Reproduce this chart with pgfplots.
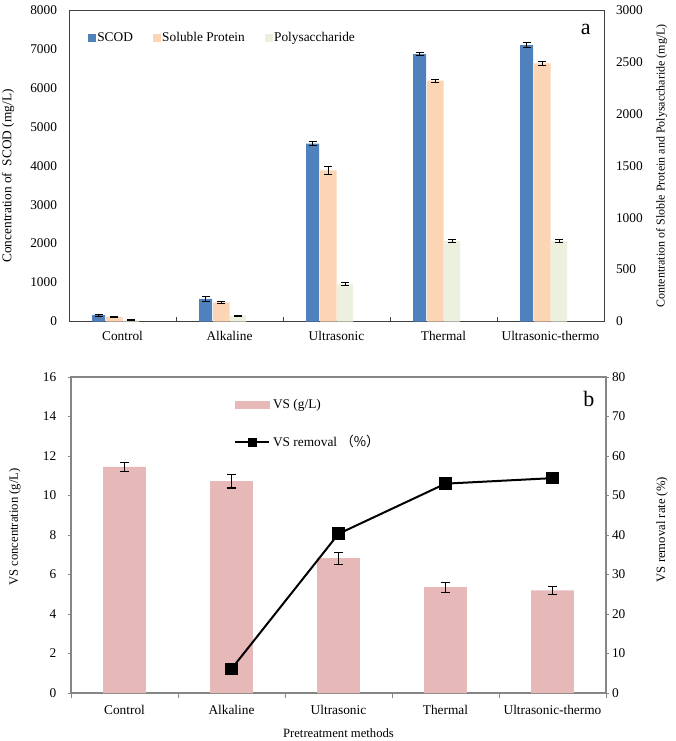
\documentclass[border=0pt]{standalone}
\usepackage{fontspec}
\setmainfont{Liberation Serif}
\newfontfamily\cjk{Noto Sans CJK SC}
\usepackage{pgfplots}
\usepackage{pgfplotstable}
\pgfplotsset{compat=1.18}

\definecolor{scod}{HTML}{4F81BD}
\definecolor{prot}{HTML}{FCD5B5}
\definecolor{poly}{HTML}{EBF1DE}
\definecolor{vsbar}{HTML}{E6B9B8}
\definecolor{axisgray}{HTML}{868686}

% top panel: SCOD on left axis, protein + polysaccharide on right axis
\pgfplotstableread{
x scod scoderr prot proterr poly polyerr
0 165  25  44   4  12  3
1 578  60  183  8  57  5
2 4570 60  1455 40 360 12
3 6870 50  2320 15 775 12
4 7100 70  2485 20 775 12
}\toptable

% bottom panel: VS concentration
\pgfplotstableread{
x vs vserr
0 11.45 0.24
1 10.73 0.35
2 6.83  0.30
3 5.36  0.25
4 5.20  0.20
}\vstable

\pgfplotsset{
  panel/.style={
    scale only axis, width=401.25pt,
    xmin=-0.5, xmax=4.5,
    xtick={0,...,4},
    xticklabels={Control,Alkaline,Ultrasonic,Thermal,Ultrasonic-thermo},
    major x tick style={draw=none},
    ticklabel style={font=\fontsize{10}{12}\selectfont},
    xticklabel style={yshift=-3.5pt},
    /pgf/number format/assume math mode=true,
    /pgf/number format/1000 sep={},
    scaled y ticks=false,
    label style={font=\fontsize{10}{12}\selectfont},
  },
  ebar/.style={
    error bars/.cd, y dir=both, y explicit,
    error bar style={draw=black, solid, line width=0.8pt},
    error mark options={draw=black, rotate=90, mark size=#1, line width=0.8pt},
  },
  sqlegend/.style={
    legend image code/.code={\fill[##1] (0pt,-3pt) rectangle (6pt,3pt);}
  },
  linelegend/.style={
    legend image code/.code={\draw[##1, mark size=2.6pt, mark repeat=2, mark phase=2]
      plot coordinates {(0pt,0pt) (12.75pt,0pt) (25.5pt,0pt)};}
  },
  barlegend/.style={
    legend image code/.code={\fill[vsbar] (0pt,-2.5pt) rectangle (25.5pt,2.5pt);}
  },
}

\begin{document}
\begin{tikzpicture}
\useasboundingbox (0pt,0pt) rectangle (506.25pt,-555.75pt);

% ---------------- panel a ----------------
\begin{axis}[panel,
  at={(51.75pt,-241.125pt)}, anchor=south west, height=233.625pt,
  ymin=0, ymax=8000, ytick={0,1000,...,8000},
  ytick style={draw=none}, ytick pos=left, xtick pos=bottom,
  yticklabel style={xshift=-5.5pt},
  minor xtick={0.5,1.5,2.5,3.5}, xtick align=inside, minor tick length=3.5pt,
  minor x tick style={draw=black!75, line width=0.6pt},
  axis line style={draw=black!75, line width=0.7pt},
  ylabel={Concentration of \ SCOD (mg/L)},
  ylabel style={at={(axis description cs:-0.114,0.467)}, anchor=center},
  legend columns=3,
  legend style={draw=none, fill=none, inner sep=0pt,
    at={(axis description cs:0.035,0.91)}, anchor=west,
    font=\fontsize{10}{12}\selectfont,
    nodes={inner xsep=1pt},
    /tikz/every even column/.append style={column sep=14pt}},
]
\addplot[ybar, sqlegend, bar width=9.75pt, bar shift=0pt, fill=scod, draw=none, ebar=3pt]
  table[x expr=\thisrow{x}-0.224, y=scod, y error=scoderr] {\toptable};
\addlegendentry{SCOD}
\addlegendimage{sqlegend, fill=prot, draw=none}
\addlegendentry{Soluble Protein}
\addlegendimage{sqlegend, fill=poly, draw=none}
\addlegendentry{Polysaccharide}
\node[font=\fontsize{16.5}{18}\selectfont] at (axis description cs:0.966,0.936) {a};
\end{axis}

\begin{axis}[panel,
  at={(51.75pt,-241.125pt)}, anchor=south west, height=233.625pt,
  axis y line*=right, axis x line=none,
  ymin=0, ymax=3000, ytick={0,500,...,3000},
  ytick style={draw=none},
  yticklabel style={xshift=5.5pt},
  axis line style={draw=black!75, line width=0.7pt},
  ylabel={Contentration of Sloble Protein and Polysaccharide (mg/L)},
  ylabel style={at={(axis description cs:1.108,0.5)}, anchor=center,
    font=\fontsize{9}{11}\selectfont},
]
\addplot[ybar, bar width=12.4pt, bar shift=0pt, fill=prot, draw=none, ebar=3pt]
  table[x expr=\thisrow{x}-0.075, y=prot, y error=proterr] {\toptable};
\addplot[ybar, bar width=12.2pt, bar shift=0pt, fill=poly, draw=none, ebar=3pt]
  table[x expr=\thisrow{x}+0.080, y=poly, y error=polyerr] {\toptable};
\end{axis}

% ---------------- panel b ----------------
\begin{axis}[panel,
  at={(53.25pt,-519.75pt)}, anchor=south west, height=237pt,
  ymin=0, ymax=16, ytick={0,2,...,16},
  ytick pos=left, xtick pos=bottom, tick align=outside,
  major tick length=2pt,
  yticklabel style={xshift=-5.5pt},
  minor xtick={-0.5,0.5,...,4.5}, minor tick length=3.5pt,
  minor x tick style={draw=axisgray, line width=0.7pt},
  ytick style={draw=axisgray, line width=0.7pt},
  axis line style={draw=axisgray, line width=0.8pt},
  ylabel={VS concentration (g/L)},
  ylabel style={at={(axis description cs:-0.105,0.525)}, anchor=center,
    font=\fontsize{9.5}{11}\selectfont},
  xlabel={Pretreatment methods},
  xlabel style={at={(axis description cs:0.5,-0.127)}, anchor=center,
    font=\fontsize{9.5}{11}\selectfont},
]
\addplot[ybar, bar width=32pt, bar shift=0pt, fill=vsbar, draw=none, ebar=3.3pt]
  table[x=x, y=vs, y error=vserr] {\vstable};
\node[font=\fontsize{16.5}{18}\selectfont] at (axis description cs:0.968,0.93) {b};
\end{axis}

\begin{axis}[panel,
  at={(53.25pt,-519.75pt)}, anchor=south west, height=237pt,
  axis y line*=right, axis x line=none,
  ymin=0, ymax=80, ytick={0,10,...,80},
  tick align=outside, major tick length=2pt,
  ytick style={draw=axisgray, line width=0.7pt},
  yticklabel style={xshift=-1pt},
  axis line style={draw=axisgray, line width=0.8pt},
  ylabel={VS removal rate (\%)},
  ylabel style={at={(axis description cs:1.105,0.517)}, anchor=center,
    font=\fontsize{9.5}{11}\selectfont},
  legend style={draw=none, fill=none, inner sep=0pt,
    at={(axis description cs:0.305,0.94)}, anchor=north west,
    font=\fontsize{10}{12}\selectfont, row sep=15pt},
  legend cell align=left,
]
\addlegendimage{barlegend}
\addlegendentry{VS (g/L)}
\addplot[black, line width=1.5pt, mark=square*, mark size=4pt, linelegend]
  coordinates {(1,6.1) (2,40.3) (3,53.0) (4,54.4)};
\addlegendentry{VS removal \cjk{（\%）}}
\end{axis}
\end{tikzpicture}
\end{document}
